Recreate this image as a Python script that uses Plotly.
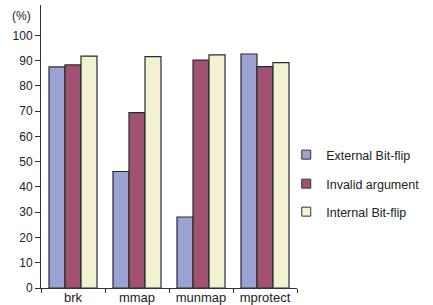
import plotly.graph_objects as go

categories = ["brk", "mmap", "munmap", "mprotect"]
external_bitflip = [87.5, 46.1, 28.1, 92.6]
invalid_argument = [88.3, 69.4, 90.2, 87.6]
internal_bitflip = [91.8, 91.6, 92.3, 89.2]
series_names = ["External Bit-flip", "Invalid argument", "Internal Bit-flip"]
colors = ["#9CA3D4", "#A05275", "#F3F1D2"]
y_ticks = list(range(0, 101, 10))

fig = go.Figure()
legends = ["legend", "legend2", "legend3"]
for name, vals, col in zip(series_names, [external_bitflip, invalid_argument, internal_bitflip], colors):
    fig.add_trace(go.Bar(x=categories, y=vals, name=name, marker_color=col,
                         marker_line_color="#2a2a2a", marker_line_width=1.2, showlegend=False))
for name, col, lg in zip(series_names, colors, legends):
    fig.add_trace(go.Scatter(x=[None], y=[None], mode="markers", name=name, legend=lg,
                             marker=dict(symbol="square", size=9, color=col,
                                         line=dict(color="#333", width=1))))

font = dict(family="Liberation Sans, Arial, sans-serif", size=12, color="#222")
leg_common = dict(x=0.958, xanchor="left", yanchor="middle", bgcolor="rgba(0,0,0,0)",
                  font=dict(family="Liberation Sans, Arial, sans-serif", size=12.5, color="#222"),
                  itemwidth=30, tracegroupgap=0)
fig.update_layout(
    template="none",
    width=433, height=305,
    margin=dict(l=41, r=136, t=5, b=17, autoexpand=False),
    plot_bgcolor="white", paper_bgcolor="white",
    barmode="group", bargap=0.25, bargroupgap=0,
    font=font,
    showlegend=True,
    legend=dict(y=(288 - 155) / 283, **leg_common),
    legend2=dict(y=(288 - 184) / 283, **leg_common),
    legend3=dict(y=(288 - 212) / 283, **leg_common),
    xaxis=dict(showline=True, linecolor="#333", linewidth=1, ticks="outside", tickson="boundaries",
               ticklen=4, tickcolor="#333", tickfont=dict(size=13), showgrid=False,
               automargin=False, ticklabelstandoff=-3),
    yaxis=dict(range=[0, 112], tickvals=y_ticks, showline=True, linecolor="#333", linewidth=1,
               ticks="outside", ticklen=5, tickcolor="#333", showgrid=False, zeroline=False,
               tickfont=dict(size=12), automargin=False),
    annotations=[dict(text="(%)", xref="paper", yref="y", x=0, y=107.5, xanchor="right",
                      xshift=-8, showarrow=False, font=dict(size=12))],
)
fig.write_html("out.html", config={"displayModeBar": False},
               post_script="document.body.style.margin='0';document.body.style.overflow='hidden';")
